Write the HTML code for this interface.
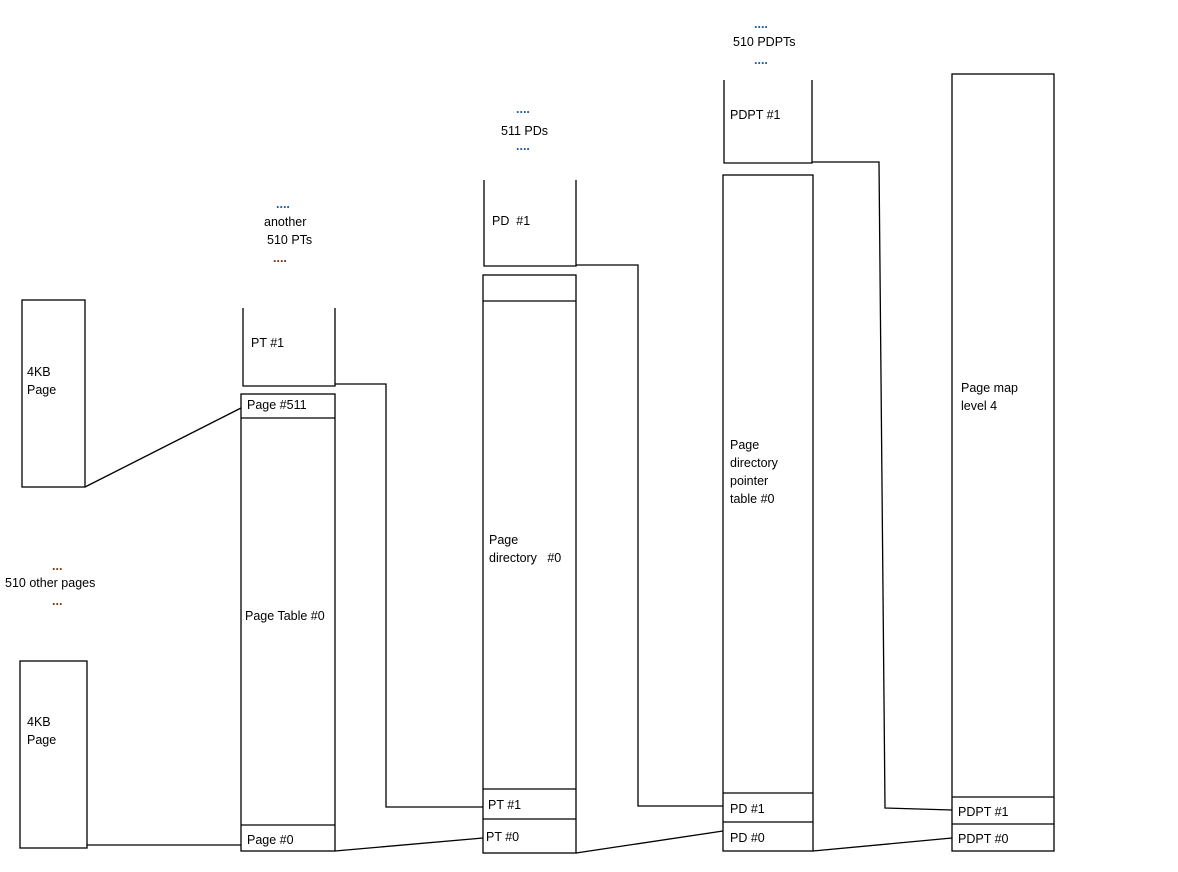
<!DOCTYPE html>
<html><head><style>
html,body{margin:0;padding:0;background:#fff}
svg{display:block}
text{font-family:"Liberation Sans",sans-serif;font-size:12.5px;fill:#000}
.d{fill:#1f5fa0;font-weight:bold}
.b{fill:#7a3a10;font-weight:bold}
</style></head><body>
<svg width="1178" height="872" viewBox="0 0 1178 872" xmlns="http://www.w3.org/2000/svg">
<g stroke="#000" stroke-width="1.3" fill="none">
<rect x="22" y="300" width="63" height="187"/>
<rect x="20" y="661" width="67" height="187"/>
<polyline points="243,308 243,386 335,386 335,308"/>
<polyline points="335,384 386,384 386,807 483,807"/>
<rect x="241" y="394" width="94" height="457"/>
<line x1="241" y1="418" x2="335" y2="418"/>
<line x1="241" y1="825" x2="335" y2="825"/>
<polyline points="484,180 484,266 576,266 576,180"/>
<polyline points="576,265 638,265 638,806 723,806"/>
<rect x="483" y="275" width="93" height="578"/>
<line x1="483" y1="301" x2="576" y2="301"/>
<line x1="483" y1="789" x2="576" y2="789"/>
<line x1="483" y1="819" x2="576" y2="819"/>
<polyline points="724,80 724,163 812,163 812,80"/>
<polyline points="812,162 879,162 885,808 952,810"/>
<rect x="723" y="175" width="90" height="676"/>
<line x1="723" y1="793" x2="813" y2="793"/>
<line x1="723" y1="822" x2="813" y2="822"/>
<rect x="952" y="74" width="102" height="777"/>
<line x1="952" y1="797" x2="1054" y2="797"/>
<line x1="952" y1="824" x2="1054" y2="824"/>
<line x1="85" y1="487" x2="241" y2="408"/>
<line x1="87" y1="845" x2="241" y2="845"/>
<line x1="335" y1="851" x2="483" y2="838"/>
<line x1="576" y1="853" x2="723" y2="831"/>
<line x1="813" y1="851" x2="952" y2="838"/>
</g>
<text x="27" y="376">4KB</text><text x="27" y="394">Page</text>
<text x="27" y="726">4KB</text><text x="27" y="744">Page</text>
<text class="b" x="52" y="570">...</text>
<text x="5" y="587">510 other pages</text>
<text class="b" x="52" y="605">...</text>
<text class="d" x="276" y="208">....</text>
<text x="264" y="226">another</text>
<text x="267" y="244">510 PTs</text>
<text class="b" x="273" y="262">....</text>
<text x="251" y="347">PT #1</text>
<text x="247" y="409">Page #511</text>
<text x="245" y="620">Page Table #0</text>
<text x="247" y="844">Page #0</text>
<text class="d" x="516" y="113">....</text>
<text x="501" y="135">511 PDs</text>
<text class="d" x="516" y="150">....</text>
<text x="492" y="225">PD &#160;#1</text>
<text x="489" y="544">Page</text>
<text x="489" y="562">directory &#160;&#160;#0</text>
<text x="488" y="809">PT #1</text>
<text x="486" y="841">PT #0</text>
<text class="d" x="754" y="28">....</text>
<text x="733" y="46">510 PDPTs</text>
<text class="d" x="754" y="64">....</text>
<text x="730" y="119">PDPT #1</text>
<text x="730" y="449">Page</text>
<text x="730" y="467">directory</text>
<text x="730" y="485">pointer</text>
<text x="730" y="503">table #0</text>
<text x="730" y="813">PD #1</text>
<text x="730" y="842">PD #0</text>
<text x="961" y="392">Page map</text>
<text x="961" y="410">level 4</text>
<text x="958" y="816">PDPT #1</text>
<text x="958" y="843">PDPT #0</text>
</svg>
</body></html>
